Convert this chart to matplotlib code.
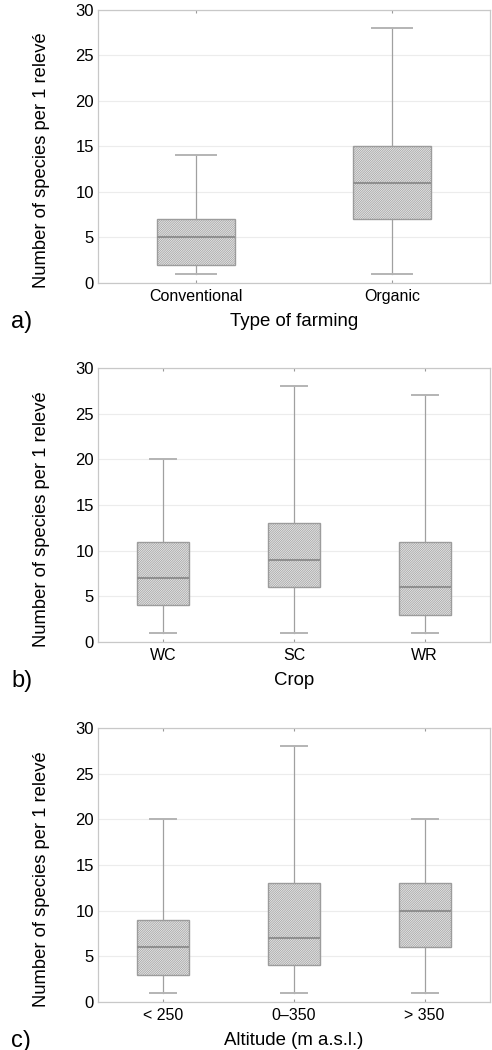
import matplotlib.pyplot as plt
import matplotlib

matplotlib.rcParams["font.family"] = ["Liberation Sans", "DejaVu Sans"]
matplotlib.rcParams["hatch.color"] = "#c2c2c2"
matplotlib.rcParams["hatch.linewidth"] = 0.5

# panel a) type of farming
farming = ["Conventional", "Organic"]
farming_min = [1, 1]
farming_q1 = [2, 7]
farming_med = [5, 11]
farming_q3 = [7, 15]
farming_max = [14, 28]

# panel b) crop
crop = ["WC", "SC", "WR"]
crop_min = [1, 1, 1]
crop_q1 = [4, 6, 3]
crop_med = [7, 9, 6]
crop_q3 = [11, 13, 11]
crop_max = [20, 28, 27]

# panel c) altitude
altitude = ["< 250", "0\u2013350", "> 350"]
alt_min = [1, 1, 1]
alt_q1 = [3, 4, 6]
alt_med = [6, 7, 10]
alt_q3 = [9, 13, 13]
alt_max = [20, 28, 20]

panels = [
    ("a)", "Type of farming", farming, farming_min, farming_q1, farming_med, farming_q3, farming_max),
    ("b)", "Crop", crop, crop_min, crop_q1, crop_med, crop_q3, crop_max),
    ("c)", "Altitude (m a.s.l.)", altitude, alt_min, alt_q1, alt_med, alt_q3, alt_max),
]

W, H = 492, 1050
fig = plt.figure(figsize=(W / 100, H / 100), dpi=100)

# axes boxes in pixels: (top, bottom)
boxes_px = [(9.5, 283), (368, 642), (728, 1002)]
left_px, right_px = 98, 490

for (tag, xlab, cats, lo, q1, med, q3, hi), (top, bot) in zip(panels, boxes_px):
    ax = fig.add_axes([left_px / W, 1 - bot / H, (right_px - left_px) / W, (bot - top) / H])
    stats = []
    for i in range(len(cats)):
        stats.append({"whislo": lo[i], "q1": q1[i], "med": med[i], "q3": q3[i],
                      "whishi": hi[i], "fliers": []})
    pos = list(range(1, len(cats) + 1))
    ax.bxp(stats, positions=pos, widths=0.4, patch_artist=True, showfliers=False,
           boxprops=dict(facecolor="#ebebeb", edgecolor="#9c9c9c", linewidth=1.0, hatch="/" * 15),
           medianprops=dict(color="#909090", linewidth=1.5),
           whiskerprops=dict(color="#a0a0a0", linewidth=0.9),
           capprops=dict(color="#b4b4b4", linewidth=1.4),
           capwidths=0.2)
    ax.set_xlim(0.5, len(cats) + 0.5)
    ax.set_ylim(0, 30)
    ax.set_yticks([0, 5, 10, 15, 20, 25, 30])
    ax.set_xticks(pos)
    ax.set_xticklabels(cats, fontsize=11.5)
    ax.tick_params(axis="y", labelsize=12, length=0, pad=3)
    ax.tick_params(axis="x", length=2, direction="in", color="#999999", top=True, pad=4)
    ax.yaxis.grid(True, color="#ececec", linewidth=0.8)
    ax.set_axisbelow(True)
    for s in ax.spines.values():
        s.set_color("#c8c8c8")
        s.set_linewidth(0.9)
    ax.set_ylabel("Number of species per 1 relev\u00e9", fontsize=13.2)
    ax.yaxis.set_label_coords(-0.122, 0.45)
    ax.set_xlabel(xlab, fontsize=13.4, labelpad=7)
    fig.text(11 / W, 1 - (bot + 28) / H, tag, fontsize=17, ha="left", va="top")

fig.savefig("out.png", dpi=100)
